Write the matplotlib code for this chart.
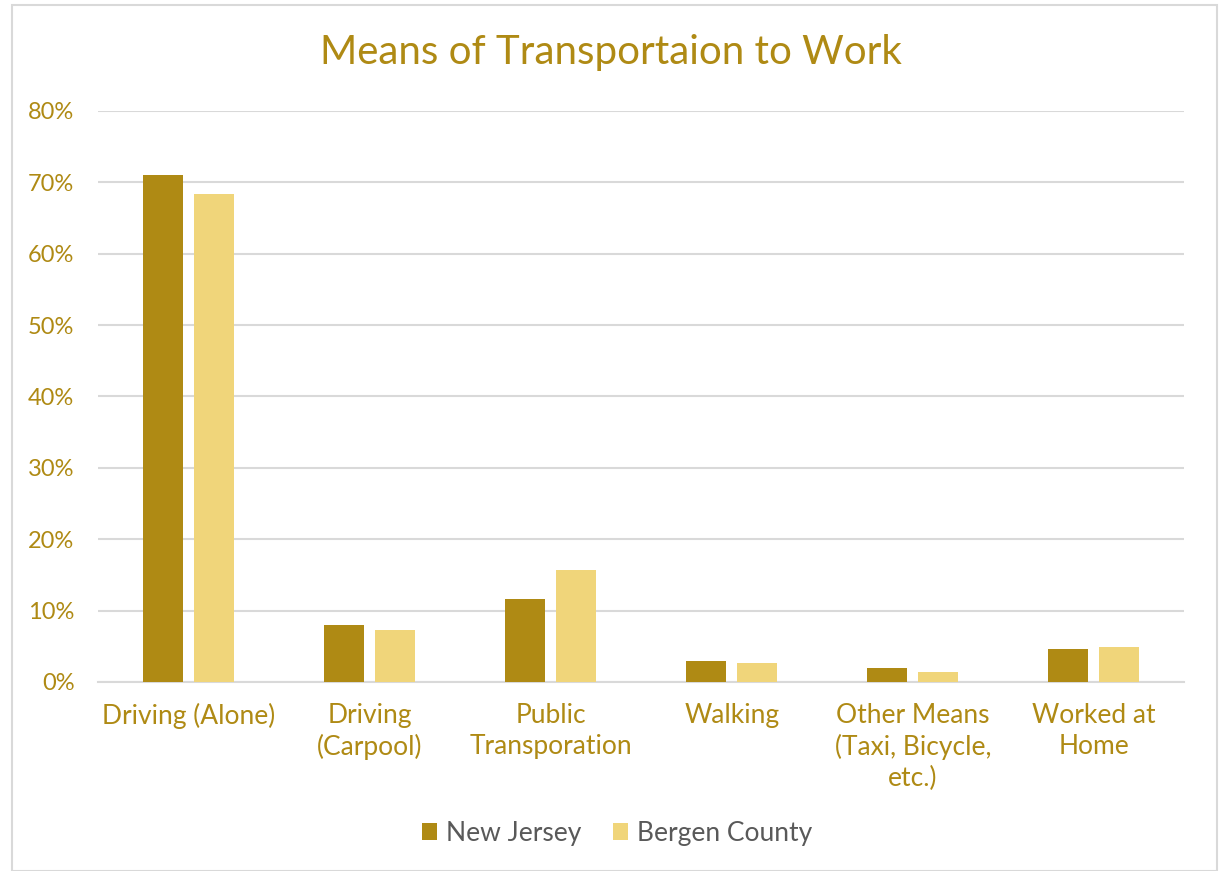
import numpy as np
import matplotlib.pyplot as plt
from matplotlib.patches import Rectangle
from matplotlib.ticker import PercentFormatter

categories = ['Driving (Alone)', 'Driving\n(Carpool)', 'Public\nTransporation', 'Walking',
              'Other Means\n(Taxi, Bicycle,\netc.)', 'Worked at\nHome']
new_jersey = [71.0, 8.0, 11.6, 2.9, 2.0, 4.6]
bergen_county = [68.3, 7.3, 15.7, 2.7, 1.4, 4.9]

GOLD = '#AF8A14'
LIGHT = '#F0D57A'
GRID = '#D9D9D9'

plt.rcParams['font.family'] = ['Lato', 'DejaVu Sans']

fig = plt.figure(figsize=(12.22, 8.71), dpi=100)
ax = fig.add_axes([0.0802, 0.217, 0.889, 0.6556])

x = np.arange(len(categories))
w = 0.22
ax.bar(x - 0.141, new_jersey, w, color=GOLD, label='New Jersey', zorder=3)
ax.bar(x + 0.141, bergen_county, w, color=LIGHT, label='Bergen County', zorder=3)

ax.set_xlim(-0.5, len(categories) - 0.5)
ax.set_ylim(0, 80)
ax.set_yticks(np.arange(0, 81, 10))
ax.yaxis.set_major_formatter(PercentFormatter(decimals=0))
ax.grid(axis='y', color=GRID, linewidth=1.5, zorder=0)
for s in ['top', 'right', 'left']:
    ax.spines[s].set_visible(False)
ax.spines['bottom'].set_color(GRID)
ax.spines['bottom'].set_linewidth(1.5)
ax.tick_params(axis='both', length=0, colors=GOLD)
ax.tick_params(axis='x', pad=15, labelsize=19)
ax.tick_params(axis='y', pad=17, labelsize=17)
ax.set_xticks(x)
ax.set_xticklabels(categories, linespacing=1.3)

fig.text(0.5, 0.94, 'Means of Transportaion to Work', ha='center', va='center',
         fontsize=29, color=GOLD)

leg = fig.legend(loc='center', bbox_to_anchor=(0.505, 0.043), ncol=2, frameon=False,
                 fontsize=19, handlelength=0.55, handleheight=0.6, columnspacing=1.2,
                 handletextpad=0.35)
for t in leg.get_texts():
    t.set_color('#595959')

fig.patches.append(Rectangle((0.010, 0.0), 0.986, 0.994, transform=fig.transFigure,
                             fill=False, edgecolor=GRID, linewidth=1.5))

fig.savefig('out.png', dpi=100)
